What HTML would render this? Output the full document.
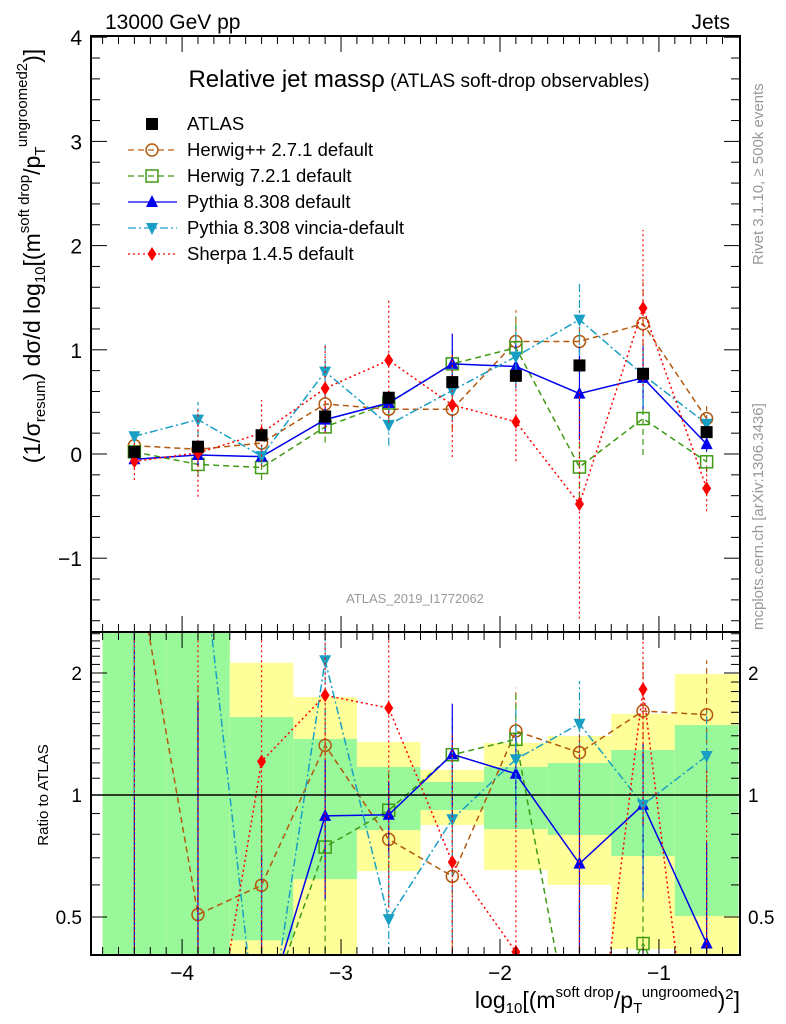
<!DOCTYPE html>
<html><head><meta charset="utf-8"><style>
html,body{margin:0;padding:0;background:#fff;width:786px;height:1024px;overflow:hidden;}
svg{display:block;font-family:"Liberation Sans",sans-serif;}
</style></head><body>
<svg id="chart" width="786" height="1024" viewBox="0 0 786 1024" xmlns="http://www.w3.org/2000/svg">
<defs>
<clipPath id="clipMain"><rect x="91" y="36" width="649" height="596"/></clipPath>
<clipPath id="clipRatio"><rect x="91" y="632" width="649" height="323"/></clipPath>
</defs>
<g id="bands" clip-path="url(#clipRatio)"></g>
<g id="marks"></g>
<g id="axes"></g>
<text x="105" y="29" font-size="21">13000 GeV pp</text>
<text x="730" y="29" font-size="21" text-anchor="end">Jets</text>
<text x="419" y="87" text-anchor="middle"><tspan font-size="24">Relative jet massρ</tspan><tspan font-size="19"> (ATLAS soft-drop observables)</tspan></text>
<text x="415" y="603" font-size="13" fill="#999" text-anchor="middle">ATLAS_2019_I1772062</text>
<text transform="translate(763,265) rotate(-90)" font-size="15" fill="#999">Rivet 3.1.10, ≥ 500k events</text>
<text transform="translate(763,630) rotate(-90)" font-size="15" fill="#999">mcplots.cern.ch [arXiv:1306.3436]</text>
<text transform="translate(40,256) rotate(-90)" font-size="23" text-anchor="middle">(1/σ<tspan font-size="15" dy="5">resum</tspan><tspan dy="-5">) dσ/d log</tspan><tspan font-size="15" dy="5">10</tspan><tspan dy="-5">[(m</tspan><tspan font-size="15" dy="-11">soft drop</tspan><tspan dy="11">/p</tspan><tspan font-size="15" dy="5">T</tspan><tspan font-size="15" dy="-18">ungroomed</tspan><tspan font-size="15" dy="0">2</tspan><tspan dy="13">)]</tspan></text>
<text transform="translate(48,795) rotate(-90)" font-size="15" text-anchor="middle">Ratio to ATLAS</text>
<text x="740" y="1008" font-size="23" text-anchor="end">log<tspan font-size="15" dy="5">10</tspan><tspan dy="-5">[(m</tspan><tspan font-size="15" dy="-11">soft drop</tspan><tspan dy="11">/p</tspan><tspan font-size="15" dy="5">T</tspan><tspan font-size="15" dy="-16">ungroomed</tspan><tspan dy="11">)</tspan><tspan font-size="15" dy="-9">2</tspan><tspan dy="9">]</tspan></text>
<g id="legend"></g>
</svg>
<script>
const binCenters=[-4.3,-3.9,-3.5,-3.1,-2.7,-2.3,-1.9,-1.5,-1.1,-0.7];
const binEdges=[-4.5,-4.1,-3.7,-3.3,-2.9,-2.5,-2.1,-1.7,-1.3,-0.9,-0.5];
const atlasVals=[0.02,0.07,0.18,0.36,0.54,0.69,0.75,0.85,0.77,0.21];
const herwigppVals=[0.08,0.045,0.105,0.48,0.43,0.43,1.08,1.08,1.25,0.34];
const herwigppErr=[0.05,0.08,0.08,0.12,0.12,0.2,0.3,0.3,0.4,0.12];
const herwig7Vals=[0.02,-0.1,-0.13,0.26,0.49,0.865,1.02,-0.125,0.34,-0.075];
const herwig7Err=[0.05,0.12,0.12,0.15,0.12,0.2,0.3,0.3,0.35,0.1];
const pythiaVals=[-0.05,-0.01,-0.025,0.33,0.49,0.865,0.84,0.58,0.73,0.095];
const pythiaErr=[0.05,0.1,0.08,0.12,0.1,0.29,0.21,0.45,0.3,0.07];
const vinciaVals=[0.17,0.33,-0.02,0.79,0.28,0.61,0.935,1.29,0.76,0.29];
const vinciaErr=[0.08,0.17,0.1,0.26,0.2,0.3,0.3,0.35,0.3,0.08];
const sherpaVals=[-0.07,0.01,0.2,0.63,0.9,0.47,0.31,-0.48,1.40,-0.33];
const sherpaErr=[0.18,0.42,0.32,0.43,0.6,0.5,0.38,1.1,0.75,0.22];
const herwigppRatio=[4,0.507,0.599,1.326,0.777,0.63,1.439,1.272,1.612,1.578];
const herwig7Ratio=[0.2,0.2,0.27,0.744,0.917,1.257,1.372,0.2,0.43,0.2];
const pythiaRatio=[0.27,0.27,0.27,0.888,0.894,1.26,1.128,0.677,0.946,0.43];
const vinciaRatio=[5,5,0.2,2.15,0.494,0.871,1.225,1.499,0.946,1.248];
const sherpaRatio=[0.1,0.14,1.21,1.762,1.639,0.683,0.41,0.1,1.823,0.1];
const yellowHi=[4,4,2.12,1.745,1.351,1.153,1.344,1.398,1.585,1.989];
const yellowLo=[0.2,0.2,0.2,0.2,0.649,0.843,0.653,0.600,0.417,0.2];
const greenHi=[4,4,1.557,1.375,1.172,1.077,1.172,1.199,1.291,1.488];
const greenLo=[0.2,0.2,0.438,0.620,0.820,0.918,0.824,0.797,0.707,0.503];
const mainTicks=[-1,0,1,2,3,4];
const ratioTicks=[0.5,1,2];
const xTicks=[-4,-3,-2,-1];

const NS="http://www.w3.org/2000/svg";
const XL=91,XR=740,YT=36,YM=632,YB=955;
const xmin=-4.573,xmax=-0.49;
function X(v){return XL+(v-xmin)/(xmax-xmin)*(XR-XL);}
function Y(v){return 454-(v)*104.2;}
function R(v){return 795-122*Math.log2(v);}
function mk(tag,attrs,parent){const e=document.createElementNS(NS,tag);for(const k in attrs)e.setAttribute(k,attrs[k]);parent.appendChild(e);return e;}
const svg=document.getElementById('chart');
const bands=document.getElementById('bands');
const marks=document.getElementById('marks');
const axes=document.getElementById('axes');

for(let i=0;i<binCenters.length;i++){
  const x0=X(binEdges[i]),x1=X(binEdges[i+1]);
  const yb=mk('rect',{x:x0,y:R(yellowHi[i]),width:x1-x0,height:R(yellowLo[i])-R(yellowHi[i]),fill:'#ffff99'},bands);
  
  
  const gb=mk('rect',{x:x0,y:R(greenHi[i]),width:x1-x0,height:R(greenLo[i])-R(greenHi[i]),fill:'#99f899'},bands);
  
  
}
mk('line',{x1:XL,x2:XR,y1:R(1),y2:R(1),stroke:'#000','stroke-width':1.5},axes);

const series=[
 {name:'herwigpp',label:'Herwig++ 2.7.1 default',vals:herwigppVals,err:herwigppErr,ratio:herwigppRatio,color:'#b35a10',dash:'6,4',marker:'circle'},
 {name:'herwig7',label:'Herwig 7.2.1 default',vals:herwig7Vals,err:herwig7Err,ratio:herwig7Ratio,color:'#3f9a14',dash:'6,4',marker:'square'},
 {name:'pythia',label:'Pythia 8.308 default',vals:pythiaVals,err:pythiaErr,ratio:pythiaRatio,color:'#0000ee',dash:'',marker:'tri'},
 {name:'vincia',label:'Pythia 8.308 vincia-default',vals:vinciaVals,err:vinciaErr,ratio:vinciaRatio,color:'#1a9fc4',dash:'8,3,2,3',marker:'tridown'},
 {name:'sherpa',label:'Sherpa 1.4.5 default',vals:sherpaVals,err:sherpaErr,ratio:sherpaRatio,color:'#ff0000',dash:'2,3',marker:'diamond'}
];
function marker(type,x,y,color,g){
  if(type==='circle')return mk('circle',{cx:x,cy:y,r:6,fill:'none',stroke:color,'stroke-width':1.5},g);
  if(type==='square')return mk('rect',{x:x-6,y:y-6,width:12,height:12,fill:'none',stroke:color,'stroke-width':1.5},g);
  if(type==='tri')return mk('polygon',{points:`${x-6},${y+5} ${x+6},${y+5} ${x},${y-7}`,fill:color},g);
  if(type==='tridown')return mk('polygon',{points:`${x-6},${y-5} ${x+6},${y-5} ${x},${y+7}`,fill:color},g);
  if(type==='diamond')return mk('polygon',{points:`${x},${y-7} ${x+4.5},${y} ${x},${y+7} ${x-4.5},${y}`,fill:color},g);
  if(type==='sq')return mk('rect',{x:x-6,y:y-6,width:12,height:12,fill:'#000'},g);
}
const gm=mk('g',{'clip-path':'url(#clipMain)'},marks);
const gr=mk('g',{'clip-path':'url(#clipRatio)'},marks);
for(const s of series){
  const g=mk('g',{},gm);
  
  
  const g2=mk('g',{},gr);
  
  
  let p='',p2='';
  binCenters.forEach((c,i)=>{
    const x=X(c);
    p+=(i?'L':'M')+x+','+Y(s.vals[i]);
    p2+=(i?'L':'M')+x+','+R(s.ratio[i]);
    mk('line',{x1:x,x2:x,y1:Y(s.vals[i]-s.err[i]),y2:Y(s.vals[i]+s.err[i]),stroke:s.color,'stroke-width':1.2,'stroke-dasharray':s.dash},g);
    const re=Math.abs(s.err[i]/atlasVals[i]);
    mk('line',{x1:x,x2:x,y1:R(Math.max(0.05,s.ratio[i]-re)),y2:R(s.ratio[i]+re),stroke:s.color,'stroke-width':1.2,'stroke-dasharray':s.dash},g2);
  });
  mk('path',{d:p,fill:'none',stroke:s.color,'stroke-width':1.5,'stroke-dasharray':s.dash},g);
  mk('path',{d:p2,fill:'none',stroke:s.color,'stroke-width':1.5,'stroke-dasharray':s.dash},g2);
  binCenters.forEach((c,i)=>{
    const m=marker(s.marker,X(c),Y(s.vals[i]),s.color,g);
    
    
    const m2=marker(s.marker,X(c),R(s.ratio[i]),s.color,g2);
    
    
  });
}
const ga=mk('g',{},gm);


binCenters.forEach((c,i)=>{
  const m=marker('sq',X(c),Y(atlasVals[i]),'#000',ga);
  
  
});

mk('rect',{x:XL,y:YT,width:XR-XL,height:YM-YT,fill:'none',stroke:'#000','stroke-width':2},axes);
mk('rect',{x:XL,y:YM,width:XR-XL,height:YB-YM,fill:'none',stroke:'#000','stroke-width':2},axes);
for(let v=-1.6;v<=4.01;v+=0.2){
  const vv=Math.round(v*10)/10, y=Y(vv); if(y<YT||y>YM)continue;
  const major=Math.abs(vv-Math.round(vv))<1e-6, L=major?16:9;
  mk('line',{x1:XL,x2:XL+L,y1:y,y2:y,stroke:'#000','stroke-width':1},axes);
  mk('line',{x1:XR,x2:XR-L,y1:y,y2:y,stroke:'#000','stroke-width':1},axes);
}
mainTicks.forEach(v=>{
  const t=mk('text',{x:82,y:Y(v)+8,'font-size':21,'text-anchor':'end'},axes);
  t.textContent=v<0?'\u2212'+Math.abs(v):String(v);
  
  
});
[0.4,0.5,0.6,0.7,0.8,0.9,1,1.1,1.2,1.3,1.4,1.5,1.6,1.7,1.8,1.9,2,2.1,2.2,2.3,2.4,2.5].forEach(v=>{
  const y=R(v); if(y<YM||y>YB)return;
  const major=(v===0.5||v===1||v===2), L=major?16:9;
  mk('line',{x1:XL,x2:XL+L,y1:y,y2:y,stroke:'#000','stroke-width':1},axes);
  mk('line',{x1:XR,x2:XR-L,y1:y,y2:y,stroke:'#000','stroke-width':1},axes);
});
ratioTicks.forEach(v=>{
  const t=mk('text',{x:82,y:R(v)+7,'font-size':19,'text-anchor':'end'},axes);
  t.textContent=String(v);
  
  
  const t2=mk('text',{x:748,y:R(v)+7,'font-size':19,'text-anchor':'start'},axes);
  t2.textContent=String(v);
  
  
});
for(let v=-4.5;v<=-0.5;v+=0.1){
  const vv=Math.round(v*10)/10, x=X(vv);
  const major=Math.abs(vv-Math.round(vv))<1e-6, L=major?16:8;
  [[YT,1],[YM,-1],[YM,1],[YB,-1]].forEach(([y0,d])=>mk('line',{x1:x,x2:x,y1:y0,y2:y0+d*L,stroke:'#000','stroke-width':1},axes));
}
xTicks.forEach(v=>{
  const t=mk('text',{x:X(v),y:980,'font-size':21,'text-anchor':'middle'},axes);
  t.textContent='\u2212'+Math.abs(v);
  
  
});
const lg=document.getElementById('legend');
const entries=[{label:'ATLAS',color:'#000',dash:null,marker:'sq',name:'atlas'}].concat(series);
entries.forEach((s,i)=>{
  const y=124+i*26;
  const g=mk('g',{},lg);
  
  
  if(s.dash!==null)mk('line',{x1:128,x2:177,y1:y,y2:y,stroke:s.color,'stroke-width':1.3,'stroke-dasharray':s.dash},g);
  marker(s.marker,152,y,s.color,g);
  const t=mk('text',{x:187,y:y+6,'font-size':18.5},g);
  t.textContent=s.label;
});
</script>
</body></html>
